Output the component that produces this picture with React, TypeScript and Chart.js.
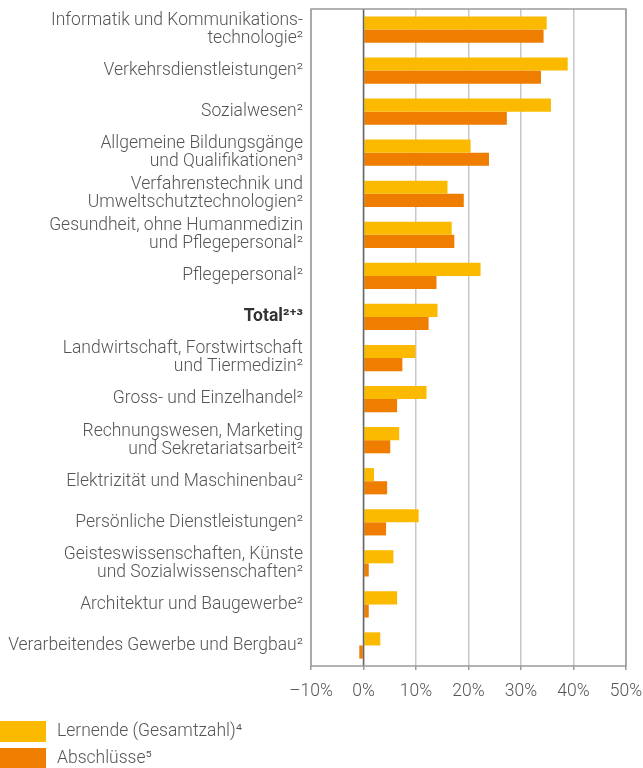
import { useEffect, useRef } from 'react';
import { Chart, registerables } from 'chart.js';
Chart.register(...registerables);

const categories: string[][] = [
  ['Informatik und Kommunikations-', 'technologie²'],
  ['Verkehrsdienstleistungen²'],
  ['Sozialwesen²'],
  ['Allgemeine Bildungsgänge', 'und Qualifikationen³'],
  ['Verfahrenstechnik und', 'Umweltschutztechnologien²'],
  ['Gesundheit, ohne Humanmedizin', 'und Pflegepersonal²'],
  ['Pflegepersonal²'],
  ['Total²⁺³'],
  ['Landwirtschaft, Forstwirtschaft', 'und Tiermedizin²'],
  ['Gross- und Einzelhandel²'],
  ['Rechnungswesen, Marketing', 'und Sekretariatsarbeit²'],
  ['Elektrizität und Maschinenbau²'],
  ['Persönliche Dienstleistungen²'],
  ['Geisteswissenschaften, Künste', 'und Sozialwissenschaften²'],
  ['Architektur und Baugewerbe²'],
  ['Verarbeitendes Gewerbe und Bergbau²'],
];
const lernende = [34.9, 38.9, 35.7, 20.4, 16.0, 16.8, 22.3, 14.1, 9.9, 12.0, 6.8, 2.0, 10.5, 5.7, 6.4, 3.2];
const abschluesse = [34.3, 33.8, 27.3, 23.9, 19.1, 17.3, 13.9, 12.4, 7.4, 6.4, 5.1, 4.5, 4.3, 1.0, 1.0, -0.8];
const seriesNames = ['Lernende (Gesamtzahl)⁴', 'Abschlüsse⁵'];
const seriesColors = ['#FBBA00', '#EE7D00'];
const xMin = -10;
const xMax = 50;
const xStep = 10;
const boldIndex = 7;

const FONT = 'Roboto';
const TEXT = '#555555';
const FS = 17.5;

const framePlugin = {
  id: 'frame',
  afterDatasetsDraw(chart: any) {
    const { ctx, chartArea: a, scales } = chart;
    const x0 = scales.x.getPixelForValue(0);
    ctx.save();
    ctx.strokeStyle = '#666666';
    ctx.lineWidth = 1.5;
    ctx.beginPath();
    ctx.moveTo(x0, a.top);
    ctx.lineTo(x0, a.bottom);
    ctx.stroke();
    ctx.restore();
  },
  afterDraw(chart: any) {
    const { ctx, chartArea: a } = chart;
    ctx.save();
    ctx.strokeStyle = '#9a9a9a';
    ctx.lineWidth = 1.5;
    ctx.strokeRect(a.left, a.top, a.right - a.left, a.bottom - a.top);
    // legend
    ctx.font = `300 ${FS}px ${FONT}`;
    ctx.textBaseline = 'middle';
    ctx.textAlign = 'left';
    seriesNames.forEach((name, i) => {
      const y = a.bottom + 55 + i * 27;
      ctx.fillStyle = seriesColors[i];
      ctx.fillRect(0, y, 46, 21);
      ctx.fillStyle = TEXT;
      ctx.fillText(name, 57, y + 11);
    });
    ctx.restore();
  },
};

export default function App() {
  const ref = useRef<HTMLCanvasElement | null>(null);
  useEffect(() => {
    if (!ref.current) return;
    const chart = new Chart(ref.current, {
      type: 'bar',
      data: {
        labels: categories,
        datasets: [
          { label: seriesNames[0], data: lernende, backgroundColor: seriesColors[0] },
          { label: seriesNames[1], data: abschluesse, backgroundColor: seriesColors[1] },
        ],
      },
      options: {
        indexAxis: 'y',
        animation: false,
        responsive: false,
        maintainAspectRatio: false,
        datasets: { bar: { barPercentage: 1, categoryPercentage: 0.64 } },
        layout: { padding: { top: 9, right: 17, bottom: 60, left: 0 } },
        plugins: { legend: { display: false }, tooltip: { enabled: false } },
        scales: {
          x: {
            min: xMin,
            max: xMax,
            ticks: {
              stepSize: xStep,
              padding: 11,
              color: TEXT,
              font: { family: FONT, size: FS, weight: '300' },
              callback: (v: any) => (v < 0 ? '–' + Math.abs(v) : String(v)) + '%',
            },
            grid: { color: '#c8c8c8', lineWidth: 1.5, drawTicks: true, tickLength: 4, tickColor: '#9a9a9a' },
            border: { display: false },
            afterFit: (s: any) => { s.height = 42; s.paddingLeft = 0; s.paddingRight = 0; },
          },
          y: {
            ticks: {
              padding: 8,
              color: (c: any) => (c.index === boldIndex ? '#333333' : TEXT),
              font: (c: any) =>
                c.index === boldIndex
                  ? { family: FONT, size: FS, weight: 'bold', lineHeight: '18px' }
                  : { family: FONT, size: FS, weight: '300', lineHeight: '18px' },
            },
            grid: { display: false, drawTicks: false },
            border: { display: false },
            afterFit: (s: any) => { s.width = 311; s.paddingTop = 0; s.paddingBottom = 0; },
          },
        },
      },
      plugins: [framePlugin],
    } as any);
    return () => chart.destroy();
  }, []);
  return (
    <div style={{ position: 'absolute', left: 0, top: 0, width: 643, height: 768 }}>
      <canvas ref={ref} width={643} height={768} style={{ display: 'block' }} />
    </div>
  );
}
